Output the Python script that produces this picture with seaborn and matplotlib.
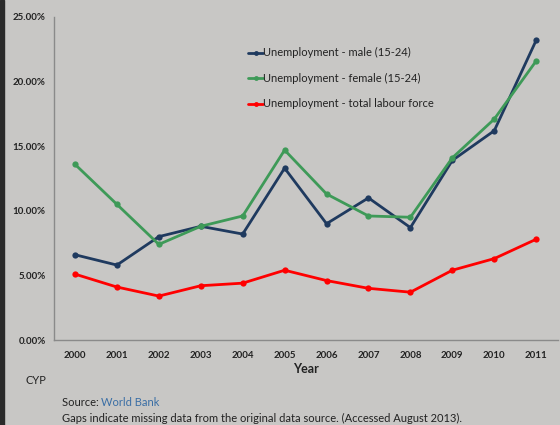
import pandas as pd
import seaborn as sns
import matplotlib.pyplot as plt
from matplotlib.ticker import FuncFormatter

years = [2000, 2001, 2002, 2003, 2004, 2005, 2006, 2007, 2008, 2009, 2010, 2011]
male = [6.6, 5.8, 8.0, 8.8, 8.2, 13.3, 9.0, 11.0, 8.7, 13.9, 16.2, 23.2]
female = [13.6, 10.5, 7.4, 8.8, 9.6, 14.7, 11.3, 9.6, 9.5, 14.1, 17.1, 21.6]
total = [5.1, 4.1, 3.4, 4.2, 4.4, 5.4, 4.6, 4.0, 3.7, 5.4, 6.3, 7.8]
labels = ['Unemployment - male (15-24)',
          'Unemployment - female (15-24)',
          'Unemployment - total labour force']

bg = '#c8c7c5'
colors = ['#1f3a5f', '#3e9a58', '#ff0000']

df = pd.DataFrame({'Year': years * 3,
                   'Value': male + female + total,
                   'Series': [labels[0]] * 12 + [labels[1]] * 12 + [labels[2]] * 12})

sns.set_theme(style="white")
plt.rcParams['font.family'] = ['Lato', 'DejaVu Sans']

fig = plt.figure(figsize=(5.6, 4.25), dpi=100, facecolor=bg)
ax = fig.add_axes([54 / 560, 1 - 340 / 425, 504 / 560, 323 / 425])
ax.set_facecolor(bg)

sns.lineplot(data=df, x='Year', y='Value', hue='Series', palette=colors,
             marker='o', markersize=4.5, markeredgewidth=0, linewidth=2, ax=ax)

ax.set_xlim(1999.5, 2011.52)
ax.set_ylim(0, 25)
ax.set_xticks(years)
ax.set_yticks([0, 5, 10, 15, 20, 25])
ax.yaxis.set_major_formatter(FuncFormatter(lambda v, p: f'{v:.2f}%'))
ax.tick_params(axis='both', labelsize=7, length=0, colors='#222222')
ax.tick_params(axis='x', pad=8)
ax.tick_params(axis='y', pad=6)
for t in ax.get_xticklabels() + ax.get_yticklabels():
    t.set_fontweight('bold')

for s in ['top', 'right']:
    ax.spines[s].set_visible(False)
for s in ['left', 'bottom']:
    ax.spines[s].set_color('#8a8a8a')
    ax.spines[s].set_linewidth(1)

ax.set_xlabel('Year', fontsize=9, fontweight='bold', color='#222222', labelpad=2)
ax.set_ylabel('')

leg = ax.legend(loc='upper left', bbox_to_anchor=(244 / 560, 1 - 43 / 425),
                bbox_transform=fig.transFigure, frameon=False, fontsize=8,
                handlelength=1.3, handletextpad=0.05, labelspacing=1.3,
                borderaxespad=0)
for line in leg.get_lines():
    line.set_linewidth(2)
    line.set_markersize(3.5)
for t in leg.get_texts():
    t.set_color('#222222')

fig.patches.append(plt.Rectangle((0, 0), 4 / 560, 1, transform=fig.transFigure,
                                 color='#2a2a2a', zorder=0))
fig.text(25 / 560, 1 - 381 / 425, 'CYP', fontsize=8, color='#222222', va='center')
fig.text(62 / 560, 1 - 403 / 425, 'Source: ', fontsize=8, color='#222222', va='center')
fig.text(101 / 560, 1 - 403 / 425, 'World Bank', fontsize=8, color='#3a6ea5', va='center')
fig.text(62 / 560, 1 - 418 / 425,
         'Gaps indicate missing data from the original data source. (Accessed August 2013).',
         fontsize=8, color='#222222', va='center')

plt.savefig('out.png', dpi=100, facecolor=bg)
